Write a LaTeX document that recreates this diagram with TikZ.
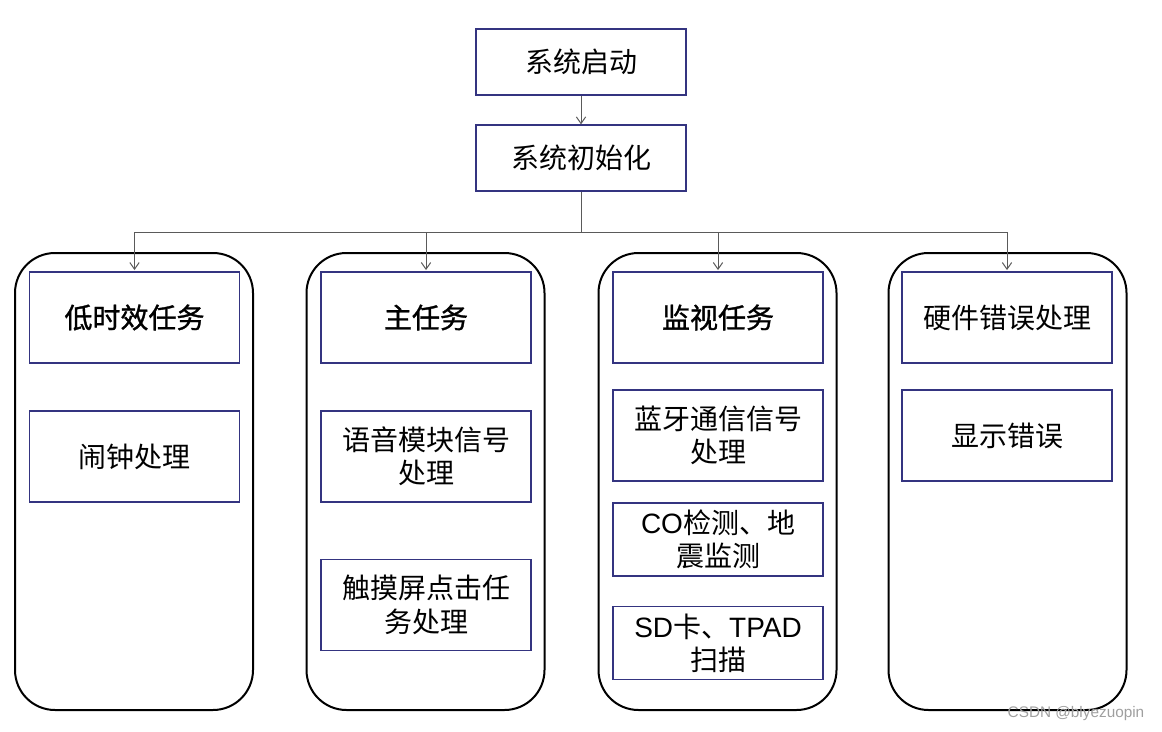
\documentclass[tikz,border=0pt]{standalone}
\usepackage{fontspec}
\setmainfont{Liberation Sans}
\newfontfamily\cjk{Noto Sans CJK SC}
\newfontfamily\cjkb[FakeBold=1.2]{Noto Sans CJK SC}
\usetikzlibrary{arrows.meta}
\definecolor{boxblue}{RGB}{52,52,128}
\definecolor{linegray}{RGB}{90,90,90}

\begin{document}
\begin{tikzpicture}[x=.75pt,y=-.75pt,
    box/.style={draw=boxblue,line width=.9pt,minimum width=157.5pt,minimum height=68.25pt,
      align=center,inner sep=0pt,font=\cjk\fontsize{21}{25}\selectfont},
    headbox/.style={box,font=\cjkb\fontsize{21}{25}\selectfont},
    topbox/.style={box,minimum height=49.5pt},
    lane/.style={draw,line width=1.5pt,rounded corners=30pt,minimum width=178.5pt,minimum height=342.75pt},
    conn/.style={draw=linegray,line width=.75pt},
    arr/.style={conn,-{Straight Barb[length=5pt,width=7pt]}}]
  \useasboundingbox (0,0) rectangle (1162,731);
  % top
  \node[topbox] (start) at (581,62) {系统启动};
  \node[topbox] (init) at (581,158) {系统初始化};
  % lanes
  \node[lane] (lane1) at (134,481.5) {};
  \node[lane] (lane2) at (425.5,481.5) {};
  \node[lane] (lane3) at (717.5,481.5) {};
  \node[lane] (lane4) at (1007.5,481.5) {};
  % lane 1
  \node[headbox] (low) at (134.5,317.5) {低时效任务};
  \node[box] (alarm) at (134.5,456.5) {闹钟处理};
  % lane 2
  \node[headbox] (main) at (426,317.5) {主任务};
  \node[box] (voice) at (426,456.5) {语音模块信号\\处理};
  \node[box] (touch) at (426,605) {触摸屏点击任\\务处理};
  % lane 3
  \node[headbox] (watch) at (718,317.5) {监视任务};
  \node[box] (bt) at (718,435.5) {蓝牙通信信号\\处理};
  \node[box,minimum height=54.75pt] (co) at (718,539.5) {{\rmfamily CO}检测、地\\震监测};
  \node[box,minimum height=54.75pt] (sd) at (718,643) {{\rmfamily SD}卡、{\rmfamily TPAD}\\扫描};
  % lane 4
  \node[box] (hw) at (1007,317.5) {硬件错误处理};
  \node[box] (err) at (1007,435.5) {显示错误};
  % connectors
  \coordinate (bus) at (581,232);
  \draw[arr] (start) -- (init);
  \draw[conn] (init) -- (bus);
  \draw[conn] (bus -| low.north) -- (bus -| hw.north);
  \foreach \t in {low,main,watch,hw}
    \draw[arr] (bus -| \t.north) -- ([yshift=1pt]\t.north);
  \node[text=gray!75,font=\fontsize{11.5}{13}\selectfont,anchor=east] (mark) at (1149,714) {CSDN @blyezuopin};
\end{tikzpicture}
\end{document}
